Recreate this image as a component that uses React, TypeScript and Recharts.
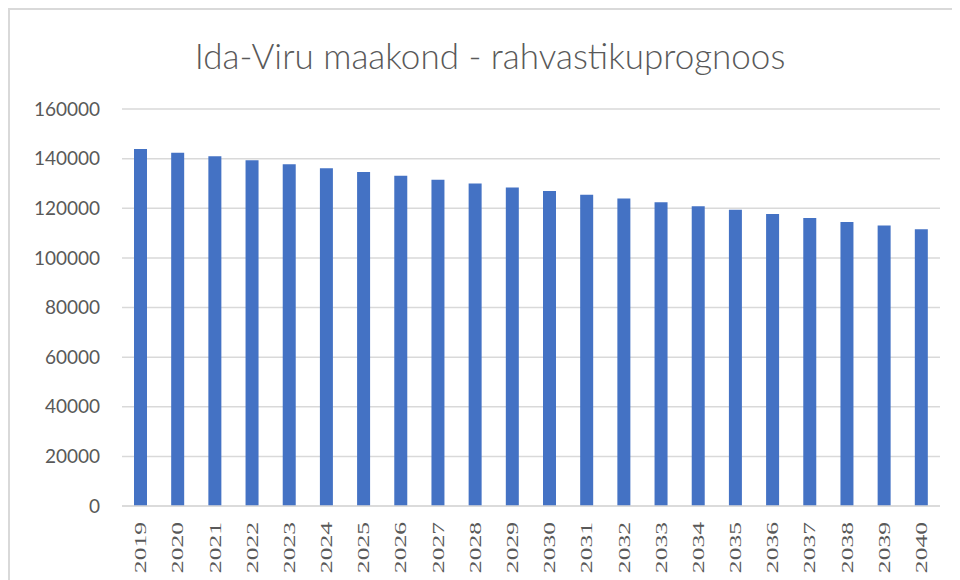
import { BarChart, Bar, XAxis, YAxis, CartesianGrid } from 'recharts';

// Ida-Viru population forecast
const years = [
  '2019', '2020', '2021', '2022', '2023', '2024', '2025', '2026', '2027', '2028', '2029',
  '2030', '2031', '2032', '2033', '2034', '2035', '2036', '2037', '2038', '2039', '2040',
];
const population = [
  143900, 142400, 141000, 139350, 137700, 136100, 134600, 133100, 131500, 130000, 128400,
  127000, 125400, 123900, 122400, 120800, 119350, 117700, 116100, 114500, 113000, 111500,
];
const yTicks = [0, 20000, 40000, 60000, 80000, 100000, 120000, 140000, 160000];

const data = years.map((year, i) => ({ year, value: population[i] }));

const GRAY = '#595959';
const GRID = '#d9d9d9';

function YearTick({ x, y, payload }: any) {
  return (
    <g transform={`translate(${x},${y + 16})`}>
      <text
        transform="rotate(-90) scale(1.6 1)"
        textAnchor="end"
        dy="0.35em"
        fill={GRAY}
        fontSize={16}
        fontFamily="'Liberation Serif', 'DejaVu Serif', serif"
      >
        {payload.value}
      </text>
    </g>
  );
}

export default function App() {
  return (
    <div
      style={{
        position: 'relative',
        width: 950,
        height: 570,
        borderTop: `2px solid ${GRID}`,
        borderLeft: `2px solid ${GRID}`,
        background: '#fff',
      }}
    >
      <div
        style={{
          position: 'absolute',
          top: 20,
          left: 0,
          width: 960,
          textAlign: 'center',
          fontFamily: 'Lato, sans-serif',
          fontWeight: 300,
          fontSize: 35,
          color: GRAY,
          lineHeight: '50px',
        }}
      >
        Ida-Viru maakond - rahvastikuprognoos
      </div>
      <BarChart
        width={950}
        height={570}
        data={data}
        margin={{ top: 99, right: 20, bottom: 0, left: 0 }}
      >
        <CartesianGrid vertical={false} stroke={GRID} strokeWidth={1.5} />
        <XAxis
          dataKey="year"
          height={74}
          tickLine={false}
          tickSize={0}
          tickMargin={0}
          axisLine={{ stroke: GRID, strokeWidth: 1.5 }}
          interval={0}
          tick={<YearTick />}
        />
        <YAxis
          width={112}
          domain={[0, 160000]}
          ticks={yTicks}
          interval={0}
          axisLine={false}
          tickLine={false}
          tickSize={0}
          tickMargin={22}
          tick={{ fill: GRAY, fontSize: 19, fontFamily: 'Lato, sans-serif' }}
        />
        <Bar dataKey="value" fill="#4472c4" barSize={13} isAnimationActive={false} />
      </BarChart>
    </div>
  );
}
